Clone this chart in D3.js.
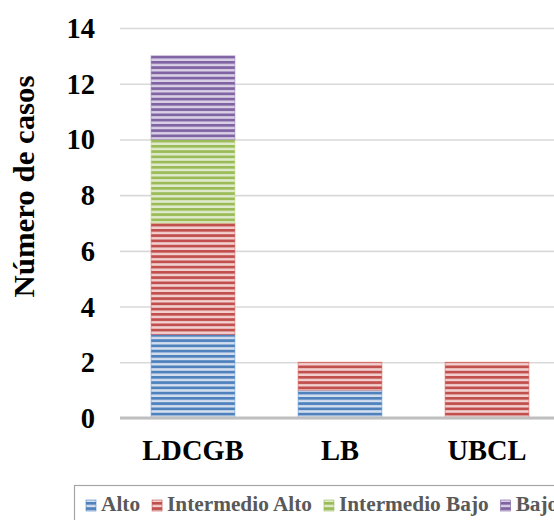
<!DOCTYPE html>
<html>
<head>
<meta charset="utf-8">
<script src="https://cdn.jsdelivr.net/npm/d3@7"></script>
<style>
  html, body { margin: 0; padding: 0; background: #fff; }
  svg { display: block; }
</style>
</head>
<body>
<script>
// Case counts per group, stacked by risk level
const categories = ["LDCGB", "LB", "UBCL"];
const seriesNames = ["Alto", "Intermedio Alto", "Intermedio Bajo", "Bajo"];
const alto = [3, 1, 0];
const intermedioAlto = [4, 1, 2];
const intermedioBajo = [3, 0, 0];
const bajo = [3, 0, 0];
const yTicks = [0, 2, 4, 6, 8, 10, 12, 14];
const yTitle = "Número de casos";

const W = 554, H = 520;
const serif = "'Liberation Serif', 'Times New Roman', serif";
const colors = ["#4f81bd", "#c0504d", "#9bbb59", "#8064a2"];
const lights = ["#d3deee", "#f2d0cf", "#e0ebcd", "#d9d0e6"];

const rows = categories.map((c, i) => ({
  cat: c,
  "Alto": alto[i],
  "Intermedio Alto": intermedioAlto[i],
  "Intermedio Bajo": intermedioBajo[i],
  "Bajo": bajo[i]
}));
const stacked = d3.stack().keys(seriesNames)(rows);

const svg = d3.select("body").append("svg").attr("width", W).attr("height", H);

const x = d3.scaleBand().domain(categories).range([119.5, 560.5])
  .paddingInner(0.43).paddingOuter(0.215);
const y = d3.scaleLinear().domain([0, 14]).range([418, 28]);

// striped fills
const defs = svg.append("defs");
const period = 5.25;
seriesNames.forEach((s, i) => {
  const p = defs.append("pattern")
    .attr("id", "stripe" + i)
    .attr("patternUnits", "userSpaceOnUse")
    .attr("x", 0).attr("y", y(0))
    .attr("width", 8).attr("height", period);
  p.append("rect").attr("width", 8).attr("height", period).attr("fill", lights[i]);
  p.append("rect").attr("y", 0).attr("width", 8).attr("height", period * 0.52).attr("fill", colors[i]);
});
const blur = defs.append("filter").attr("id", "soft")
  .attr("x", "-5%").attr("y", "-5%").attr("width", "110%").attr("height", "110%");
blur.append("feGaussianBlur").attr("stdDeviation", 0.45);

// gridlines
const grid = svg.append("g").attr("transform", "translate(120,0)")
  .call(d3.axisLeft(y).tickValues(yTicks).tickSize(-460).tickFormat(""));
grid.select(".domain").remove();
grid.selectAll(".tick line").attr("stroke", "#d9d9d9").attr("stroke-width", 1.6);

// bars
const layers = svg.append("g").selectAll("g").data(stacked).join("g")
  .attr("fill", (d, i) => `url(#stripe${i})`);
layers.selectAll("rect").data(d => d.filter(v => v[1] - v[0] > 0)).join("rect")
  .attr("x", d => x(d.data.cat))
  .attr("width", x.bandwidth())
  .attr("y", d => y(d[1]))
  .attr("height", d => y(d[0]) - y(d[1]))
  .attr("filter", "url(#soft)");
layers.each(function (d, i) {
  d3.select(this).selectAll("rect")
    .attr("stroke", d3.color(colors[i]).brighter(0.4).copy({opacity: 0.55}))
    .attr("stroke-width", 1);
});

// baseline
svg.append("line").attr("x1", 120).attr("x2", 580)
  .attr("y1", y(0)).attr("y2", y(0))
  .attr("stroke", "#bfbfbf").attr("stroke-width", 3);

// y tick labels
svg.append("g").selectAll("text").data(yTicks).join("text")
  .attr("x", 95).attr("y", d => y(d))
  .attr("dy", "0.35em")
  .attr("text-anchor", "end")
  .attr("font-family", serif)
  .attr("font-weight", "bold").attr("font-size", 28.5)
  .attr("fill", "#000")
  .text(d => d);

// category labels
svg.append("g").selectAll("text").data(categories).join("text")
  .attr("x", d => x(d) + x.bandwidth() / 2).attr("y", 460)
  .attr("text-anchor", "middle")
  .attr("font-family", serif)
  .attr("font-weight", "bold").attr("font-size", 28.5)
  .attr("fill", "#000")
  .text(d => d);

// y axis title
svg.append("text")
  .attr("transform", "translate(34,186.5) rotate(-90)")
  .attr("text-anchor", "middle")
  .attr("font-family", serif)
  .attr("font-weight", "bold").attr("font-size", 29)
  .attr("textLength", 222)
  .attr("lengthAdjust", "spacingAndGlyphs")
  .attr("fill", "#000")
  .text(yTitle);

// legend
const legend = svg.append("g");
legend.append("rect").attr("x", 74.5).attr("y", 485.5)
  .attr("width", 520).attr("height", 60)
  .attr("fill", "none").attr("stroke", "#a6a6a6").attr("stroke-width", 1.2);
let lx = 86;
seriesNames.forEach((s, i) => {
  legend.append("rect").attr("x", lx).attr("y", 500).attr("width", 10).attr("height", 11)
    .attr("fill", `url(#stripe${i})`).attr("stroke", colors[i]).attr("stroke-width", 0.6);
  const t = legend.append("text").attr("x", lx + 15).attr("y", 511)
    .attr("font-family", serif)
    .attr("font-weight", "bold").attr("font-size", 21.3)
    .attr("fill", "#595959")
    .text(s);
  lx += 15 + t.node().getComputedTextLength() + 12;
});
</script>
</body>
</html>
